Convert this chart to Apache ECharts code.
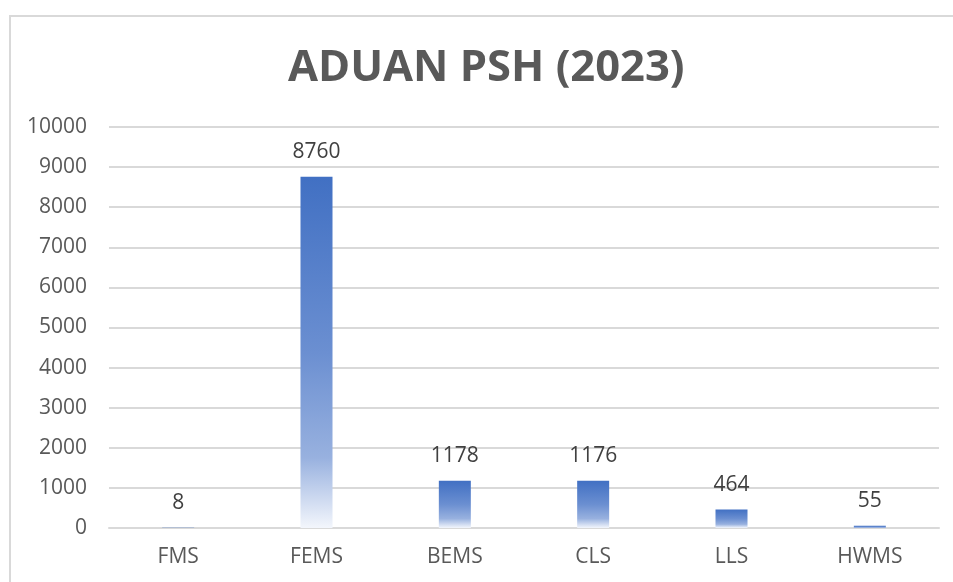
<!DOCTYPE html>
<html>
<head>
<meta charset="utf-8">
<script src="https://cdn.jsdelivr.net/npm/echarts@6/dist/echarts.min.js"></script>
<style>
  html, body { margin: 0; padding: 0; background: #fff; }
  #frame { position: absolute; left: 9px; top: 15px; width: 960px; height: 580px; border: 2px solid #d9d9d9; box-sizing: border-box; }
  #chart { position: absolute; left: 0; top: 0; width: 953px; height: 582px; }
</style>
</head>
<body>
<div id="frame"></div>
<div id="chart"></div>
<script>
  const categories = ['FMS', 'FEMS', 'BEMS', 'CLS', 'LLS', 'HWMS'];
  const complaints = [8, 8760, 1178, 1176, 464, 55];
  const yMin = 0, yMax = 10000, yStep = 1000;

  const chart = echarts.init(document.getElementById('chart'));
  chart.setOption({
    animation: false,
    textStyle: { fontFamily: 'Open Sans' },
    title: {
      text: 'ADUAN PSH (2023)',
      left: 283,
      top: 42,
      textStyle: { fontSize: 43.5, fontWeight: 'bold', color: '#595959', fontFamily: 'Open Sans' }
    },
    grid: { left: 109, right: 14, top: 127, bottom: 54 },
    xAxis: {
      type: 'category',
      data: categories,
      axisLine: { lineStyle: { color: '#d9d9d9', width: 2 } },
      axisTick: { show: false },
      axisLabel: { color: '#595959', fontSize: 21, margin: 19 }
    },
    yAxis: {
      type: 'value',
      min: yMin,
      max: yMax,
      interval: yStep,
      axisLine: { show: false },
      axisTick: { show: false },
      axisLabel: { color: '#595959', fontSize: 21, margin: 22, formatter: v => String(v) },
      splitLine: { lineStyle: { color: '#d9d9d9', width: 2 } }
    },
    series: [{
      type: 'bar',
      data: complaints,
      barWidth: 32,
      itemStyle: {
        color: new echarts.graphic.LinearGradient(0, 0, 0, 1, [
          { offset: 0, color: '#4170c3' },
          { offset: 0.5, color: '#6b8fd1' },
          { offset: 0.8, color: '#98b1df' },
          { offset: 1, color: '#f3f6fc' }
        ])
      },
      label: {
        show: true,
        position: 'top',
        distance: 14,
        color: '#404040',
        fontSize: 21
      }
    }]
  });
</script>
</body>
</html>
